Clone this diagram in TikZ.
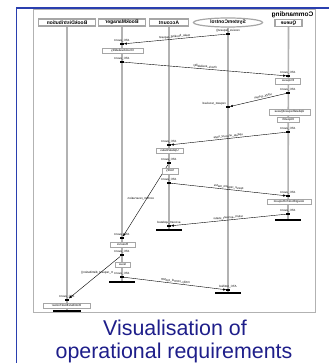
\documentclass[tikz,border=0pt]{standalone}
\usepackage{fontspec}
\setmainfont{Liberation Sans}
\usepackage{graphicx}
\usetikzlibrary{shapes.geometric,arrows.meta}

\definecolor{slideblue}{HTML}{2A3FAF}
\definecolor{captionblue}{HTML}{1E1E8A}
\newcommand{\flipped}[1]{\reflectbox{#1}}

\begin{document}
\begin{tikzpicture}[x=1pt, y=-1pt,
  head/.style={draw=gray!70, line width=1.2pt, fill=white, inner sep=0pt,
    minimum height=7pt, font=\fontsize{5}{6}\selectfont\bfseries},
  act/.style={draw=gray!70, line width=0.9pt, fill=white, inner sep=0pt,
    minimum height=5pt, font=\fontsize{3}{3}\selectfont},
  life/.style={draw=gray!60, line width=1.6pt},
  msg/.style={line width=0.4pt, -{Latex[length=3pt,width=2.4pt]}},
  evt/.style={fill=black, inner sep=0pt, minimum width=3.2pt, minimum height=2.6pt},
  lbl/.style={font=\fontsize{3}{3}\selectfont, inner sep=0.6pt},
  endbar/.style={line width=1.8pt},
  caption/.style={font=\fontsize{21.4}{24}\selectfont, text=captionblue}]
  \useasboundingbox (0,0) rectangle (329,363);
  % Slide border and the frame of the diagram.
  \draw[slideblue, line width=1.6pt] (16.5,363) -- (16.5,8) -- (329,8);
  \draw[gray!60, line width=1pt] (33,10) rectangle (315,312);
  \node[anchor=north east, inner sep=0.5pt, font=\fontsize{6.5}{7}\selectfont\bfseries]
    (frm) at (314,11.2) {\flipped{Commanding}};
  % Heads of the five lifelines.
  \node[head, minimum width=57pt] (bd) at (67,22.5) {\flipped{BookDistribution}};
  \node[head, minimum width=47pt] (bm) at (122,22.5) {\flipped{BookManager}};
  \node[head, minimum width=39pt] (ac) at (169,22.5) {\flipped{Account}};
  \node[head, ellipse, minimum width=69pt, minimum height=9pt] (sc) at (228,22.5) {\flipped{SystemControl}};
  \node[head, minimum width=27pt] (qu) at (288.5,23) {\flipped{Queue}};
  % Where each lifeline stops.
  \coordinate (bdEnd) at (67,311);
  \coordinate (bmEnd) at (122,282);
  \coordinate (acEnd) at (169,230);
  \coordinate (scEnd) at (228,293);
  \coordinate (quEnd) at (288,220);
  \draw[life] (bd.south) -- (bdEnd);
  \draw[life] (bm.south) -- (bmEnd);
  \draw[life] (ac.south) -- (acEnd);
  \draw[life] (sc.south) -- (scEnd);
  \draw[life] (qu.south) -- (quEnd);
  % Events on the lifelines.
  \node[evt, label={[lbl]above:\flipped{receive\_request()}}] (s1) at (228,34) {};
  \node[evt, label={[lbl]above left:\flipped{request\_received}}] (s2) at (228,107) {};
  \node[evt, label={[lbl]above:\flipped{ATC\_notified}}] (s3) at (228,290) {};
  \node[evt, label={[lbl]above:\flipped{ATC\_event}}] (b1) at (122,44) {};
  \node[evt, label={[lbl]above:\flipped{ATC\_event}}] (b2) at (122,62) {};
  \node[evt, label={[lbl]above:\flipped{ATC\_event}}] (b3) at (122,238) {};
  \node[evt, label={[lbl]above:\flipped{ATC\_event}}] (b4) at (122,255) {};
  \node[evt, label={[lbl]above:\flipped{ATC\_event}}] (b5) at (122,277) {};
  \node[evt, label={[lbl]above:\flipped{ATC\_event}}] (q1) at (288,76) {};
  \node[evt, label={[lbl]above:\flipped{ATC\_event}}] (q2) at (288,93) {};
  \node[evt, label={[lbl]above:\flipped{ATC\_event}}] (q3) at (288,132) {};
  \node[evt, label={[lbl]above:\flipped{ATC\_event}}] (q4) at (288,196) {};
  \node[evt, label={[lbl]above:\flipped{ATC\_event}}] (q5) at (288,214) {};
  \node[evt, label={[lbl]above:\flipped{ATC\_event}}] (a1) at (169,145) {};
  \node[evt, label={[lbl]above:\flipped{ATC\_event}}] (a2) at (169,163) {};
  \node[evt, label={[lbl]above:\flipped{ATC\_event}}] (a3) at (169,183) {};
  \node[evt, label={[lbl]above:\flipped{account\_updated}}] (a4) at (169,226) {};
  \node[evt, label={[lbl]above:\flipped{ATC\_event}}] (d1) at (67,300) {};
  % Messages.
  \draw[msg] (s1) -- node[lbl, above, sloped] {\flipped{make\_booking\_request}} (b1);
  \draw[msg] (b2) -- node[lbl, above, sloped] {\flipped{check\_availability}} (q1);
  \draw[msg] (q2) -- node[lbl, above, sloped, pos=0.4] {\flipped{notify\_system}} (s2);
  \draw[msg] (q3) -- node[lbl, above, sloped] {\flipped{update\_account\_state}} (a1);
  \draw[msg] (a2) -- node[lbl, pos=0.47, xshift=-6pt] {\flipped{confirm\_reservation}} (b3);
  \draw[msg] (a3) -- node[lbl, above, sloped] {\flipped{queue\_request\_status}} (q4);
  \draw[msg] (q5) -- node[lbl, above, sloped] {\flipped{return\_account\_status}} (a4);
  \draw[msg] (b4) -- node[lbl, above, pos=0.45] {\flipped{tr\_request\_distribution()}} (d1);
  \draw[msg] (b5) -- node[lbl, above, sloped] {\flipped{notify\_control\_system}} (s3);
  % Actions.
  \node[act, minimum width=41pt] (c1) at (122.5,50.5) {\flipped{CheckAvailability}};
  \node[act, minimum width=25pt, minimum height=6pt] (c2) at (288,81) {\flipped{Enqueue}};
  \node[act, minimum width=41pt, minimum height=6pt] (c3) at (289.5,112) {\flipped{UpdateRequestQueue}};
  \node[act, minimum width=22pt] (c4) at (288,119.5) {\flipped{Dispatch}};
  \node[act, minimum width=27pt] (c5) at (169.5,150.5) {\flipped{UpdateStatus}};
  \node[act, minimum width=16pt, minimum height=6pt] (c6) at (170,171) {\flipped{Notify}};
  \node[act, minimum width=44pt] (c7) at (289,201.5) {\flipped{AssignBookToRequest}};
  \node[act, minimum width=25pt] (c8) at (122.5,244.5) {\flipped{Reserve}};
  \node[act, minimum width=15pt] (c9) at (122.5,264.5) {\flipped{Issue}};
  \node[act, minimum width=47pt] (c10) at (66.5,305.5) {\flipped{DistributeBookToUser}};
  % Ends of the lifelines.
  \draw[endbar] ([xshift=-14pt]bdEnd) -- ([xshift=14pt]bdEnd);
  \draw[endbar] ([xshift=-13pt]bmEnd) -- ([xshift=13pt]bmEnd);
  \draw[endbar] ([xshift=-13pt]acEnd) -- ([xshift=13pt]acEnd);
  \draw[endbar] ([xshift=-13pt]scEnd) -- ([xshift=13pt]scEnd);
  \draw[endbar] ([xshift=-13pt]quEnd) -- ([xshift=13pt]quEnd);
  % Caption.
  \node[caption, anchor=base] (cap1) at (175,335) {Visualisation of};
  \node[caption, anchor=base] (cap2) at (174,358) {operational requirements};
\end{tikzpicture}
\end{document}
